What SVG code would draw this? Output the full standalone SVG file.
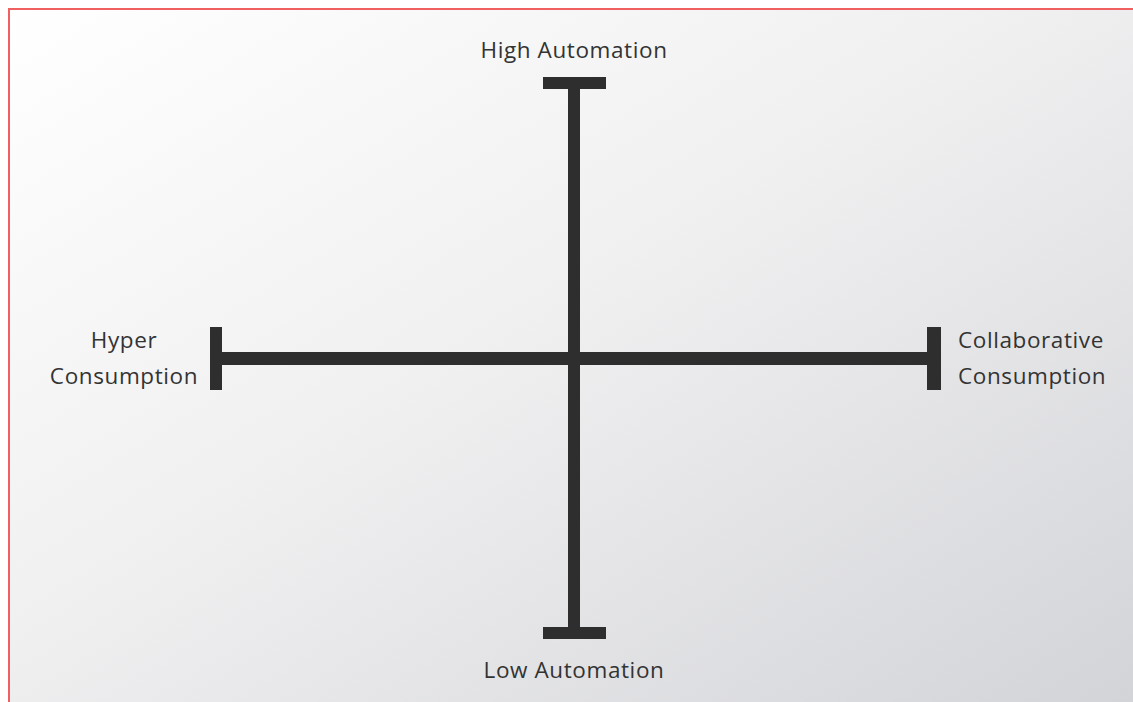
<svg xmlns="http://www.w3.org/2000/svg" width="1133" height="702" viewBox="0 0 1133 702">
<defs>
<linearGradient id="bg" x1="0" y1="0" x2="1" y2="1">
<stop offset="0" stop-color="#ffffff"/>
<stop offset="0.45" stop-color="#f0f0f1"/>
<stop offset="1" stop-color="#d3d4d8"/>
</linearGradient>
<style>
.bar{fill:#2e2e2e}
.lbl{font-family:"Open Sans","DejaVu Sans",sans-serif;font-size:22.5px;letter-spacing:0.6px;fill:#333333}
</style>
</defs>
<rect x="0" y="0" width="1133" height="702" fill="#ffffff"/>
<rect x="9" y="9" width="1124" height="693" fill="url(#bg)"/>
<path d="M9 702V9H1133" fill="none" stroke="#f06060" stroke-width="2"/>
<g id="connectors">
<rect class="bar" x="568" y="89" width="12" height="538"/>
<rect class="bar" x="222" y="352" width="705" height="13"/>
</g>
<g id="high">
<rect class="bar" x="543" y="77" width="63" height="12"/>
<text class="lbl" x="574" y="58" text-anchor="middle">High Automation</text>
</g>
<g id="low">
<rect class="bar" x="543" y="627" width="63" height="12"/>
<text class="lbl" x="574" y="678" text-anchor="middle">Low Automation</text>
</g>
<g id="hyper">
<rect class="bar" x="210" y="327" width="12" height="63"/>
<text class="lbl" x="124" y="348" text-anchor="middle">Hyper</text>
<text class="lbl" x="124" y="384" text-anchor="middle">Consumption</text>
</g>
<g id="collab">
<rect class="bar" x="927" y="327" width="14" height="63"/>
<text class="lbl" x="958" y="348">Collaborative</text>
<text class="lbl" x="958" y="384">Consumption</text>
</g>
</svg>
